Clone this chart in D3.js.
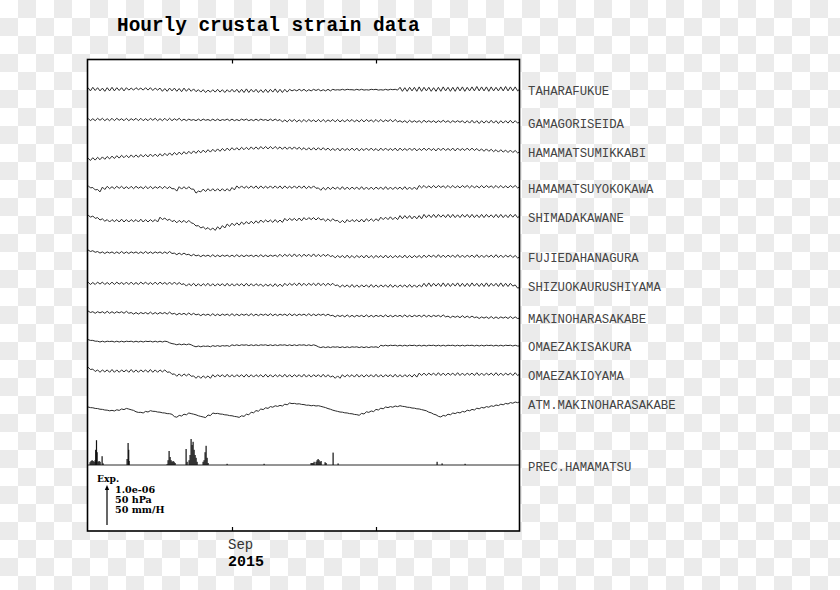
<!DOCTYPE html>
<html><head><meta charset="utf-8">
<script src="https://cdn.jsdelivr.net/npm/d3@7"></script>
<style>html,body{margin:0;padding:0;background:#fff}</style>
</head><body><svg id="c" width="840" height="590"></svg>
<script>
// ---------- DATA ----------
const stationNames = ["TAHARAFUKUE","GAMAGORISEIDA","HAMAMATSUMIKKABI","HAMAMATSUYOKOKAWA","SHIMADAKAWANE",
  "FUJIEDAHANAGURA","SHIZUOKAURUSHIYAMA","MAKINOHARASAKABE","OMAEZAKISAKURA","OMAEZAKIOYAMA","ATM.MAKINOHARASAKABE"];
const precName = "PREC.HAMAMATSU";
const startDate = "2015-08-02 00", endDate = "2015-10-31 00";
const sampleHours = 12;
const xTickLabel = "Sep", yearLabel = "2015";
const legendLines = ["1.0e-06", "50 hPa", "50 mm/H"];
// strain in units of 1e-8, sampled every 12 h
const taharafukue = [4,-4,5,-3,4,-4,3,-5,4,-4,5,-4,4,-3,4,-4,
 4,-2,3,-2,4,-1,3,-2,4,-2,4,-3,3,-2,
 3,-5,2,-5,3,-4,3,-5,2,-6,3,-5,2,-5,1,-6,
 -1,-7,-1,-8,-2,-7,-1,-7,0,-7,-1,-8,-1,-7,0,-7,
 0,-8,0,-8,1,-8,0,-7,0,-8,-1,-8,0,-8,0,-7,1,-8,0,-8,0,-7,
 0,-4,-1,-4,0,-4,0,-5,-1,-4,0,-3,0,-4,-1,-4,0,-4,
 0,-2,-1,-2,0,-2,0,-1,-1,-2,0,-2,0,-2,-1,-2,0,-1,0,-2,-1,-2,0,-2,0,-1,0,-2,
 5,-5,4,-5,5,-4,5,-5,6,-5,5,-4,5,-5,4,-5,5,-5,6,-4,5,-5,5,-5,
 6,-4,6,-5,5,-4,6,-4,7,-4,6,-4,6,-5,6,-4,5,-4,6,-4,7,-4,6,-4,6,-4,
 1];
const gamagoriseida = [3,-3,2,-3,3,-2,3,-3,2,-3,3,-3,3,-2,2,-3,3,-3,2,-2,3,-3,3,-3,2,-3,3,-2,3,-3,2,-3,3,-3,3,-3,2,-2,3,-3,
 1,-3,1,-2,0,-3,1,-3,1,-2,0,-3,1,-3,1,-3,0,-2,1,-3,1,-3,0,-3,1,-2,1,-3,0,-3,1,-3,1,-2,0,-3,1,-3,1,-3,
 0,-6,-1,-6,0,-5,0,-6,-1,-6,0,-6,0,-5,-1,-6,0,-6,0,-6,-1,-5,0,-6,0,-6,-1,-6,0,-5,0,-6,-1,-6,0,-6,0,-5,-1,-6,0,-6,0,-6,-1,-5,0,-6,0,-6,
 -3,-7,-3,-8,-2,-7,-3,-7,-3,-8,-2,-7,-3,-7,-3,-8,-3,-7,-2,-7,-3,-8,-3,-7,-3,-7,
 -3,-9,-3,-9,-2,-9,-3,-10,-3,-9,-3,-9,-2,-9,-3,-10,-3,-9,-3,-9,-2,-9,-3,-9,
 -6];
const hamamatsumikkabi = [3,-3,4,-2,5,-1,6,0,7,1,8,2,9,3,10,4,10,4,11,5,
 11,5,12,6,12,6,13,7,13,7,14,8,15,9,16,10,17,11,18,12,
 19,13,20,14,21,15,22,16,23,17,24,18,25,19,26,20,27,21,28,22,
 29,23,29,23,30,24,30,24,31,25,31,25,32,26,32,26,32,26,32,26,
 31,25,31,25,31,25,31,25,30,24,29,23,29,23,29,23,29,23,29,23,
 28,22,27,22,28,21,28,22,27,22,28,22,28,21,27,22,28,22,28,22,
 27,21,28,22,28,22,27,22,28,21,28,22,27,22,28,22,28,21,27,22,
 28,22,28,22,27,21,28,22,28,22,27,22,28,21,28,22,27,22,28,22,
 28,22,27,21,26,20,26,20,25,19,24,18,24,18,23,17,23,17,22,16,
 19];
const hamamatsuyokokawa = [3,-3,-2,-8,-7,-13,-1,-7,1,-5,0,-5,1,-4,1,-5,0,-5,1,-5,
 1,-4,0,-5,1,-5,1,-5,0,-4,1,-5,1,-5,0,-5,-5,-11,0,-6,
 0,-6,0,-6,-6,-16,-11,-13,-6,-12,-5,-11,-5,-11,-5,-11,-5,-11,-5,-11,
 -2,-8,2,-4,2,-4,1,-4,2,-4,2,-5,2,-4,1,-4,2,-4,2,-4,
 2,-5,2,-4,1,-4,2,-4,2,-4,2,-5,1,-4,2,-4,-3,-9,-2,-8,
 -1,-7,-1,-6,-1,-7,0,-7,-1,-7,-1,-6,-1,-7,0,-7,-1,-7,-1,-7,
 -1,-6,-1,-7,0,-7,-1,-7,-1,-6,-1,-7,0,-7,-1,-7,-1,-7,3,-3,
 3,-3,2,-3,3,-3,3,-2,2,-3,3,-3,3,-3,2,-3,3,-2,3,-3,
 3,-3,2,-3,3,-3,3,-2,2,-3,3,-3,3,-3,2,-3,3,-2,3,-3,
 0];
const shimadakawane = [3,-3,0,-6,-4,-10,-7,-13,-9,-15,-9,-14,-9,-15,-8,-15,-9,-15,-9,-14,
 -9,-15,-8,-15,-9,-15,-9,-14,-9,-15,-3,-9,-5,-11,-8,-14,-11,-17,-11,-16,
 -11,-17,-11,-17,-19,-25,-24,-30,-27,-33,-29,-35,-30,-36,-27,-33,-24,-30,-20,-26,
 -18,-24,-17,-23,-15,-21,-14,-20,-13,-19,-12,-18,-10,-16,-10,-15,-10,-16,-9,-16,
 -10,-16,-6,-12,-6,-11,-6,-12,-5,-12,-4,-10,-4,-9,-4,-10,-4,-10,-7,-13,
 -7,-13,-7,-12,-11,-17,-11,-17,-9,-15,-9,-14,-9,-15,-8,-15,-7,-13,-7,-13,
 -7,-12,-3,-9,-3,-9,-2,-9,-3,-9,1,-7,1,-6,1,-7,0,-7,1,-7,
 4,-4,3,-4,4,-4,4,-3,3,-4,4,-4,4,-4,3,-4,4,-3,4,-4,
 4,-4,3,-4,4,-4,4,-3,3,-4,4,-4,4,-4,3,-4,4,-3,4,-4,
 0];
const fujiedahanagura = [2,-2,0,-4,-2,-6,-3,-7,-3,-6,-3,-7,-3,-7,-2,-7,-3,-7,-3,-6,
 -3,-7,-3,-7,-2,-7,-3,-7,-3,-6,-3,-7,-3,-7,-2,-7,-6,-10,-6,-10,
 -6,-10,-9,-13,-9,-13,-11,-15,-11,-14,-11,-15,-10,-15,-11,-15,-11,-14,-11,-15,
 -11,-15,-10,-15,-11,-15,-11,-14,-11,-15,-11,-15,-10,-15,-11,-15,-11,-14,-11,-15,
 -9,-15,-9,-14,-9,-15,-8,-15,-9,-15,-9,-14,-9,-15,-8,-15,-9,-15,-9,-14,
 -9,-15,-12,-18,-12,-17,-12,-18,-11,-18,-12,-18,-12,-17,-12,-18,-11,-18,-12,-18,
 -12,-17,-12,-18,-11,-18,-12,-18,-12,-17,-12,-18,-11,-18,-12,-18,-12,-17,-12,-18,
 -11,-17,-11,-16,-11,-17,-10,-17,-11,-17,-11,-16,-11,-17,-10,-17,-11,-17,-11,-16,
 -11,-17,-10,-17,-11,-17,-11,-16,-11,-17,-10,-17,-11,-17,-11,-16,-11,-17,-12,-18,
 -16];
const shizuokaurushiyama = [3,-3,2,-3,3,-2,3,-3,2,-3,3,-3,3,-2,2,-3,3,-3,3,-3,
 2,-3,3,-2,3,-3,2,-3,3,-3,3,-2,2,-3,3,-3,3,-3,2,-3,
 -1,-7,-1,-6,0,-7,-1,-7,-1,-6,0,-7,-1,-7,-1,-6,-1,-7,0,-7,
 -1,-7,-1,-6,-1,-7,0,-7,-1,-7,-1,-6,-2,-8,-2,-7,-2,-8,-1,-8,
 -2,-8,0,-6,0,-5,0,-6,1,-6,0,-6,0,-5,0,-6,1,-6,0,-6,
 0,-5,0,-6,-4,-10,-4,-9,-4,-10,-3,-10,-4,-10,-4,-9,-4,-10,-3,-10,
 -4,-10,-4,-9,-4,-10,-3,-10,-4,-10,-4,-9,-4,-10,-3,-10,-4,-10,-4,-9,
 0,-8,1,-8,0,-7,0,-8,1,-8,0,-8,0,-7,1,-8,0,-8,0,-8,
 1,-7,0,-8,0,-8,1,-8,0,-7,0,-8,1,-8,0,-8,0,-7,-4,-12,
 -10];
const makinoharasakabe = [2,-2,0,-4,0,-3,0,-4,1,-4,0,-4,0,-3,0,-4,1,-4,-2,-6,
 -2,-6,-2,-5,-2,-6,-1,-6,-2,-6,-2,-5,-2,-6,-1,-6,-4,-8,-4,-7,
 -4,-8,-3,-8,-4,-8,-6,-10,-6,-9,-6,-10,-5,-10,-6,-10,-6,-9,-6,-10,
 -5,-10,-6,-10,-6,-9,-6,-10,-5,-10,-6,-10,-6,-9,-6,-10,-5,-10,-6,-10,
 -6,-9,-6,-10,-5,-10,-6,-10,-6,-9,-6,-10,-5,-10,-6,-10,-6,-9,-6,-10,
 -6,-10,-9,-13,-9,-12,-9,-13,-8,-13,-9,-13,-9,-12,-9,-13,-8,-13,-9,-13,
 -9,-12,-9,-13,-8,-13,-9,-13,-9,-12,-9,-13,-8,-13,-9,-13,-9,-12,-9,-13,
 -8,-13,-9,-13,-9,-12,-9,-13,-8,-13,-11,-15,-11,-14,-11,-15,-10,-15,-11,-15,
 -11,-15,-13,-17,-13,-16,-13,-17,-12,-17,-13,-17,-13,-16,-13,-17,-12,-17,-13,-17,
 -16];
const omaezakisakura = [1,-1,-1,-3,-3,-5,-3,-5,-3,-4,-3,-5,-3,-5,-3,-5,-3,-4,-3,-5,
 -3,-5,-3,-5,-3,-4,-3,-5,-3,-5,-3,-5,-3,-4,-7,-9,-10,-12,-10,-12,
 -10,-12,-10,-12,-15,-17,-15,-17,-15,-16,-15,-17,-14,-16,-14,-16,-14,-15,-14,-16,
 -12,-14,-12,-14,-12,-13,-12,-14,-12,-14,-12,-14,-12,-13,-12,-14,-12,-14,-12,-14,
 -12,-13,-12,-14,-12,-14,-12,-14,-12,-13,-12,-14,-12,-14,-12,-14,-17,-19,-17,-19,
 -17,-19,-17,-18,-17,-19,-17,-19,-17,-19,-17,-18,-17,-19,-17,-19,-17,-19,-17,-18,
 -17,-19,-13,-15,-13,-15,-13,-14,-13,-15,-13,-15,-13,-15,-13,-14,-13,-15,-13,-15,
 -13,-15,-13,-14,-13,-15,-13,-15,-13,-15,-13,-14,-13,-15,-13,-15,-13,-15,-13,-14,
 -13,-15,-13,-15,-13,-15,-13,-14,-13,-15,-13,-15,-13,-15,-13,-14,-13,-15,-13,-15,
 -15];
const omaezakioyama = [3,-3,-2,-8,-4,-10,-4,-9,-4,-10,-3,-10,-4,-10,-4,-9,-4,-10,-3,-10,
 -4,-10,-4,-9,-4,-10,-3,-10,-4,-10,-4,-9,-4,-10,-9,-15,-14,-20,-14,-20,
 -14,-19,-14,-20,-19,-25,-19,-25,-19,-24,-19,-25,-16,-22,-16,-21,-16,-22,-15,-22,
 -16,-22,-16,-21,-16,-22,-15,-22,-16,-22,-16,-21,-16,-22,-15,-22,-16,-22,-16,-21,
 -16,-22,-15,-22,-16,-22,-16,-21,-16,-22,-15,-22,-16,-22,-16,-21,-16,-22,-15,-22,
 -16,-22,-19,-25,-19,-25,-16,-22,-16,-21,-16,-22,-15,-22,-16,-22,-16,-21,-16,-22,
 -15,-22,-16,-22,-16,-21,-16,-22,-15,-22,-16,-22,-16,-21,-16,-22,-15,-22,-12,-18,
 -12,-18,-12,-17,-12,-18,-11,-18,-12,-18,-12,-17,-12,-18,-11,-18,-12,-18,-12,-17,
 -12,-18,-11,-18,-12,-18,-12,-17,-12,-18,-11,-18,-12,-18,-12,-17,-12,-18,-11,-18,
 -14];
// atmospheric pressure, hPa, every 12 h
const atmMakinoharasakabe = [1007.4,1006.6,1006.4,1005.6,1005.4,1004.6,1004.4,1003.6,1003.4,1002.6,1003.2,1002.4,1003.9,1003.1,1004.9,1004.1,1005.6,1004.8,1003.9,1003.1,
 1001.4,1000.6,1000.7,999.9,1001.9,1001.1,1002.8,1002.0,1001.9,1001.1,1000.9,1000.1,999.9,999.1,999.0,998.2,995.4,994.6,996.9,996.1,
 998.4,997.6,999.9,999.1,998.4,997.6,996.4,995.6,994.9,994.1,997.4,996.6,999.9,999.1,999.4,998.6,998.4,997.6,997.4,996.6,
 996.4,995.6,995.2,994.4,996.4,995.6,998.4,997.6,1000.9,1000.1,1002.9,1002.1,1004.9,1004.1,1006.4,1005.6,1007.9,1007.1,1008.9,1008.1,
 1009.4,1008.6,1010.9,1010.1,1012.4,1011.6,1011.9,1011.1,1011.4,1010.6,1010.4,1009.6,1009.7,1008.9,1009.4,1008.6,1009.0,1008.2,1007.4,1006.6,
 1005.4,1004.6,1003.4,1002.6,1001.9,1001.1,1000.9,1000.1,999.9,999.1,998.9,998.1,997.8,997.0,999.4,998.6,1001.4,1000.6,1002.4,1001.6,
 1004.4,1003.6,1005.9,1005.1,1007.4,1006.6,1007.9,1007.1,1008.6,1007.8,1009.0,1008.2,1007.9,1007.1,1006.9,1006.1,1005.9,1005.1,1004.9,1004.1,
 1003.4,1002.6,1000.9,1000.1,998.4,997.6,995.7,994.9,996.9,996.1,998.4,997.6,999.9,999.1,1000.7,999.9,1001.9,1001.1,1003.4,1002.6,
 1004.4,1003.6,1005.9,1005.1,1006.9,1006.1,1007.9,1007.1,1008.9,1008.1,1009.9,1009.1,1010.9,1010.1,1011.9,1011.1,1012.9,1012.1,1013.6,1012.8,
 1014.0];
const seriesValues = [taharafukue,gamagoriseida,hamamatsumikkabi,hamamatsuyokokawa,shimadakawane,
  fujiedahanagura,shizuokaurushiyama,makinoharasakabe,omaezakisakura,omaezakioyama,atmMakinoharasakabe];
const seriesUnit = ["strain","strain","strain","strain","strain","strain","strain","strain","strain","strain","hPa"];
const seriesRef = [0,0,0,0,0,0,0,0,0,0,1007];
// hourly precipitation (mm/h), nonzero hours only
const rainTimes = ["08-02 10","08-02 15","08-02 20","08-03 01","08-03 06","08-03 11","08-03 14","08-03 18","08-03 21","08-04 02","08-04 07","08-04 12","08-04 22","08-05 03",
 "08-10 03","08-10 08","08-10 11","08-10 13",
 "08-18 11","08-18 16","08-18 21","08-19 02","08-19 07","08-19 12","08-19 17","08-19 22","08-20 03",
 "08-22 10","08-22 15","08-23 01","08-23 06","08-23 11","08-23 16","08-23 21","08-24 02","08-24 07","08-24 12","08-24 17",
 "08-25 23","08-26 04","08-26 09","08-26 14","08-26 19","08-27 00",
 "08-30 23","09-07 16",
 "09-17 11","09-17 16","09-17 21","09-18 02","09-18 12","09-18 17","09-18 22","09-19 03","09-19 08","09-19 13","09-20 09","09-20 14",
 "09-22 01","09-23 02","10-13 17","10-14 18","10-19 13"];
const rainMM = [3.5,5,6,5,4,6,19,31,16,4,5,4,11,2,
 7.5,27.5,19,5,
 1,6,17.5,10,6,4,5,4,2.5,
 20,4,6,12.5,32.5,25,29,19,12.5,9,4,
 4,6,16,24,9,2.5,
 1.5,1.5,
 2.5,2.5,2.5,4,4,6,7.5,6,4,5,3.5,2.5,
 15.5,2,4,2,1.5];

// ---------- LAYOUT ----------
const W = 840, H = 590;
const frame = {x0: 87.5, x1: 519.5, y0: 59.5, y1: 531};
const rowBase = [89.3,119.5,159.3,186.7,216,250.7,283.3,311.7,340,368.3,407.3];
const precBase = 465;
const monoFont = "'Liberation Mono','Courier New',monospace";

const svg = d3.select("#c");
const parse = d3.timeParse("%Y-%m-%d %H");
const t0 = parse(startDate), t1 = parse(endDate);
const x = d3.scaleTime().domain([t0, t1]).range([88, 520]);
const strainPx = d3.scaleLinear().domain([0, 100]).range([0, 40]); // 1.0e-06 -> 40 px
const hpaPx = d3.scaleLinear().domain([0, 50]).range([0, 40]);
const rainPx = d3.scaleLinear().domain([0, 50]).range([0, 40]);

// checker background
const defs = svg.append("defs");
const pat = defs.append("pattern").attr("id","chk").attr("patternUnits","userSpaceOnUse")
  .attr("width",36).attr("height",36);
pat.append("rect").attr("width",36).attr("height",36).attr("fill","#ffffff");
pat.append("rect").attr("x",18).attr("y",0).attr("width",18).attr("height",18).attr("fill","#ebebeb");
pat.append("rect").attr("x",0).attr("y",18).attr("width",18).attr("height",18).attr("fill","#ebebeb");
svg.append("rect").attr("width",W).attr("height",H).attr("fill","url(#chk)");

// plot area
svg.append("rect").attr("x",frame.x0).attr("y",frame.y0)
  .attr("width",frame.x1-frame.x0).attr("height",frame.y1-frame.y0).attr("fill","#fff");

// title
svg.append("text").attr("x",117).attr("y",31)
  .attr("font-family",monoFont).attr("font-weight","bold")
  .attr("font-size",19.4).attr("fill","#000").text("Hourly crustal strain data");

// traces
const g = svg.append("g");
seriesValues.forEach((vals, i) => {
  const sc = seriesUnit[i] === "hPa" ? hpaPx : strainPx;
  const pts = vals.map((v, j) => [d3.timeHour.offset(t0, j*sampleHours), v]);
  const yOf = v => rowBase[i] - sc(v - seriesRef[i]);
  const line = d3.line().x(d => x(d[0])).y(d => yOf(d[1]));
  g.append("path").attr("d", line(pts)).attr("fill","none")
    .attr("stroke","#2a2a2a").attr("stroke-width",1);
  const tailMean = d3.mean(vals.slice(-10));
  svg.append("text").attr("x",528).attr("y", yOf(tailMean) + 2.5)
    .attr("dominant-baseline","middle")
    .attr("font-family",monoFont).attr("font-size",12.3)
    .attr("fill","#444").text(stationNames[i]);
});

// precipitation
g.append("line").attr("x1",88).attr("x2",520).attr("y1",precBase).attr("y2",precBase)
  .attr("stroke","#2a2a2a").attr("stroke-width",1);
g.selectAll("rect.rain").data(rainTimes.map((t,k)=>({t: parse("2015-"+t), v: rainMM[k]})))
  .enter().append("rect").attr("class","rain")
  .attr("x", d => x(d.t) - 0.5).attr("width", 1.2)
  .attr("y", d => precBase - rainPx(d.v)).attr("height", d => rainPx(d.v))
  .attr("fill","#111");
svg.append("text").attr("x",528).attr("y",precBase+3).attr("dominant-baseline","middle")
  .attr("font-family",monoFont).attr("font-size",12.3)
  .attr("fill","#444").text(precName);

// frame
svg.append("rect").attr("x",frame.x0).attr("y",frame.y0)
  .attr("width",frame.x1-frame.x0).attr("height",frame.y1-frame.y0)
  .attr("fill","none").attr("stroke","#000").attr("stroke-width",1.6);

// month ticks (inward)
const months = d3.timeMonth.range(d3.timeMonth.ceil(t0), t1);
const topAxis = d3.axisBottom(x).tickValues(months).tickSize(4).tickFormat("");
const botAxis = d3.axisTop(x).tickValues(months).tickSize(4).tickFormat("");
svg.append("g").attr("transform",`translate(0,${frame.y0})`).call(topAxis)
  .call(a=>a.select(".domain").remove()).selectAll("line").attr("stroke","#000").attr("stroke-width",1.2);
svg.append("g").attr("transform",`translate(0,${frame.y1})`).call(botAxis)
  .call(a=>a.select(".domain").remove()).selectAll("line").attr("stroke","#000").attr("stroke-width",1.2);

const sepX = x(months[0]);
svg.append("text").attr("x",sepX-4).attr("y",548.5)
  .attr("font-family",monoFont).attr("font-size",14)
  .attr("fill","#333").text(xTickLabel);
svg.append("text").attr("x",sepX-4).attr("y",566)
  .attr("font-family",monoFont).attr("font-size",15).attr("font-weight","bold")
  .attr("fill","#000").text(yearLabel);

// scale legend
const lf = "'DejaVu Serif','Liberation Serif',serif";
svg.append("text").attr("x",97).attr("y",481.5).attr("font-family",lf).attr("font-weight","bold")
  .attr("font-size",9.2).attr("fill","#000").text("Exp.");
legendLines.forEach((t,k)=>{
  svg.append("text").attr("x",115).attr("y",492.5 + k*10.3).attr("font-family",lf).attr("font-weight","bold")
    .attr("font-size",9.6).attr("fill","#000").text(t);
});
const arrowBottom = 525, arrowTop = arrowBottom - strainPx(100);
svg.append("line").attr("x1",107).attr("x2",107).attr("y1",arrowBottom).attr("y2",arrowTop+3)
  .attr("stroke","#000").attr("stroke-width",1.2);
svg.append("path").attr("d",`M107,${arrowTop} L104.8,${arrowTop+5} L109.2,${arrowTop+5} Z`).attr("fill","#000");
</script></body></html>
